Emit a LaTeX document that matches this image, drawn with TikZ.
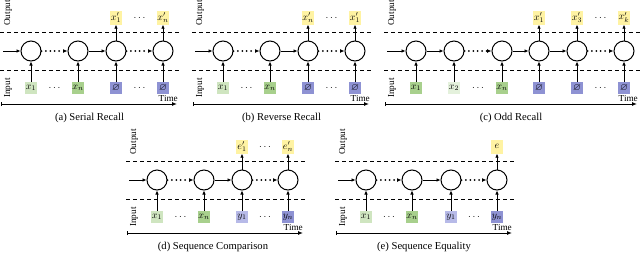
\documentclass[tikz,border=0pt]{standalone}
\usepackage{amssymb}
\usepackage{fontspec}
\setmainfont{Liberation Serif}
\usetikzlibrary{arrows.meta}
\definecolor{glight}{HTML}{CFE5C0}
\definecolor{gmid}{HTML}{A8D08D}
\definecolor{gpale}{HTML}{E4F1DC}
\definecolor{pmid}{HTML}{8E92D3}
\definecolor{plight}{HTML}{B7BAE8}
\definecolor{ylw}{HTML}{FFF3A3}
\tikzset{
  cell/.style={circle,draw,line width=1pt,minimum size=20pt,inner sep=0pt},
  inbox/.style={rectangle,minimum width=12.5pt,minimum height=12.5pt,inner sep=0.5pt,font=\fontsize{10}{12}\selectfont},
  outbox/.style={rectangle,fill=ylw,minimum width=12pt,minimum height=14pt,inner sep=0.5pt,font=\fontsize{10}{12}\selectfont},
  flow/.style={line width=0.8pt,-{Latex[length=4pt,width=3.6pt]}},
  dflow/.style={line width=2pt,line cap=round,dash pattern=on 0pt off 4.4pt,-{Latex[length=4.5pt,width=4pt]}},
  guide/.style={line width=0.8pt,dash pattern=on 4pt off 3pt},
  axisline/.style={line width=1pt,{Bar[width=4pt]}-{Latex[length=5pt,width=4pt]}},
  lbl/.style={inner sep=0pt,font=\fontsize{9.2}{10}\selectfont},
  captext/.style={inner sep=0pt,font=\fontsize{10.6}{12}\selectfont},
  dd/.style={inner sep=0pt,font=\fontsize{10}{12}\selectfont}
}
\begin{document}
\begin{tikzpicture}[x=1pt,y=-1pt]
\useasboundingbox (0,0) rectangle (640,266);
% ---------------- (a) Serial Recall
\begin{scope}[shift={(0,0)}]
\draw[guide] (0,32.5) -- (180,32.5);
\draw[guide] (0,70.5) -- (180,70.5);
\node[lbl,rotate=90] (aO) at (8,13) {Output};
\node[lbl,rotate=90] (aI) at (8,88) {Input};
\node[cell] (a1) at (31,51) {};
\node[cell] (a2) at (78,51) {};
\node[cell] (a3) at (116,51) {};
\node[cell] (a4) at (163,51) {};
\coordinate (a0) at (3,51);
\draw[flow] (a0) -- (a1);
\draw[dflow] (a1) -- (a2);
\draw[flow] (a2) -- (a3);
\draw[dflow] (a3) -- (a4);
\node[inbox,fill=glight] (ai1) at (31,88) {$x_1$};
\node[inbox,fill=gmid] (ai2) at (78,88) {$x_n$};
\node[inbox,fill=pmid] (ai3) at (116,88) {$\varnothing$};
\node[inbox,fill=pmid] (ai4) at (163,88) {$\varnothing$};
\node[dd] (aid1) at (54.5,88) {$\dots$};
\node[dd] (aid2) at (139.5,88) {$\dots$};
\foreach \i in {1,...,4}{\draw[flow] (ai\i) -- (a\i);}
\node[outbox] (ao3) at (116,17.5) {$x'_1$};
\node[outbox] (ao4) at (163,17.5) {$x'_n$};
\node[dd] (aod) at (139.5,17.5) {$\dots$};
\draw[flow] (a3) -- (ao3);
\draw[flow] (a4) -- (ao4);
\coordinate (at0) at (1,104);
\coordinate (at1) at (177,104);
\draw[axisline] (at0) -- (at1);
\node[lbl,anchor=base east] (aT) at (178,101) {Time};
\node[captext] (aC) at (89.5,118) {(a) Serial Recall};
\end{scope}
% ---------------- (b) Reverse Recall
\begin{scope}[shift={(192,0)}]
\draw[guide] (0,32.5) -- (180,32.5);
\draw[guide] (0,70.5) -- (180,70.5);
\node[lbl,rotate=90] (bO) at (8,13) {Output};
\node[lbl,rotate=90] (bI) at (8,88) {Input};
\node[cell] (b1) at (31,51) {};
\node[cell] (b2) at (78,51) {};
\node[cell] (b3) at (116,51) {};
\node[cell] (b4) at (163,51) {};
\coordinate (b0) at (3,51);
\draw[flow] (b0) -- (b1);
\draw[dflow] (b1) -- (b2);
\draw[flow] (b2) -- (b3);
\draw[dflow] (b3) -- (b4);
\node[inbox,fill=glight] (bi1) at (31,88) {$x_1$};
\node[inbox,fill=gmid] (bi2) at (78,88) {$x_n$};
\node[inbox,fill=pmid] (bi3) at (116,88) {$\varnothing$};
\node[inbox,fill=pmid] (bi4) at (163,88) {$\varnothing$};
\node[dd] (bid1) at (54.5,88) {$\dots$};
\node[dd] (bid2) at (139.5,88) {$\dots$};
\foreach \i in {1,...,4}{\draw[flow] (bi\i) -- (b\i);}
\node[outbox] (bo3) at (116,17.5) {$x'_n$};
\node[outbox] (bo4) at (163,17.5) {$x'_1$};
\node[dd] (bod) at (139.5,17.5) {$\dots$};
\draw[flow] (b3) -- (bo3);
\draw[flow] (b4) -- (bo4);
\coordinate (bt0) at (1,104);
\coordinate (bt1) at (177,104);
\draw[axisline] (bt0) -- (bt1);
\node[lbl,anchor=base east] (bT) at (178,101) {Time};
\node[captext] (bC) at (89.5,118) {(b) Reverse Recall};
\end{scope}
% ---------------- (c) Odd Recall
\begin{scope}[shift={(384,0)}]
\draw[guide] (0,32.5) -- (256,32.5);
\draw[guide] (0,70.5) -- (256,70.5);
\node[lbl,rotate=90] (cO) at (8,13) {Output};
\node[lbl,rotate=90] (cI) at (8,88) {Input};
\node[cell] (c1) at (32,51) {};
\node[cell] (c2) at (70,51) {};
\node[cell] (c3) at (118,51) {};
\node[cell] (c4) at (155,51) {};
\node[cell] (c5) at (193,51) {};
\node[cell] (c6) at (240,51) {};
\coordinate (c0) at (3,51);
\draw[flow] (c0) -- (c1);
\draw[flow] (c1) -- (c2);
\draw[dflow] (c2) -- (c3);
\draw[flow] (c3) -- (c4);
\draw[flow] (c4) -- (c5);
\draw[dflow] (c5) -- (c6);
\node[inbox,fill=gmid] (ci1) at (32,88) {$x_1$};
\node[inbox,fill=gpale] (ci2) at (70,88) {$x_2$};
\node[inbox,fill=gmid] (ci3) at (118,88) {$x_n$};
\node[inbox,fill=pmid] (ci4) at (155,88) {$\varnothing$};
\node[inbox,fill=pmid] (ci5) at (193,88) {$\varnothing$};
\node[inbox,fill=pmid] (ci6) at (240,88) {$\varnothing$};
\node[dd] (cid1) at (94,88) {$\dots$};
\node[dd] (cid2) at (216.5,88) {$\dots$};
\foreach \i in {1,...,6}{\draw[flow] (ci\i) -- (c\i);}
\node[outbox] (co4) at (155,17.5) {$x'_1$};
\node[outbox] (co5) at (193,17.5) {$x'_3$};
\node[outbox] (co6) at (240,17.5) {$x'_k$};
\node[dd] (cod) at (216.5,17.5) {$\dots$};
\draw[flow] (c4) -- (co4);
\draw[flow] (c5) -- (co5);
\draw[flow] (c6) -- (co6);
\coordinate (ct0) at (1,104);
\coordinate (ct1) at (253,104);
\draw[axisline] (ct0) -- (ct1);
\node[lbl,anchor=base east] (cT) at (254,101) {Time};
\node[captext] (cC) at (127,118) {(c) Odd Recall};
\end{scope}
% ---------------- (d) Sequence Comparison
\begin{scope}[shift={(126,129)}]
\draw[guide] (0,32.5) -- (181,32.5);
\draw[guide] (0,70.5) -- (181,70.5);
\node[lbl,rotate=90] (dO) at (8,13) {Output};
\node[lbl,rotate=90] (dI) at (8,88) {Input};
\node[cell] (d1) at (31,51) {};
\node[cell] (d2) at (78,51) {};
\node[cell] (d3) at (116,51) {};
\node[cell] (d4) at (162,51) {};
\coordinate (d0) at (3,51);
\draw[flow] (d0) -- (d1);
\draw[dflow] (d1) -- (d2);
\draw[flow] (d2) -- (d3);
\draw[dflow] (d3) -- (d4);
\node[inbox,fill=glight] (di1) at (31,88) {$x_1$};
\node[inbox,fill=gmid] (di2) at (78,88) {$x_n$};
\node[inbox,fill=plight] (di3) at (116,88) {$y_1$};
\node[inbox,fill=pmid] (di4) at (162,88) {$y_n$};
\node[dd] (did1) at (54.5,88) {$\dots$};
\node[dd] (did2) at (139,88) {$\dots$};
\foreach \i in {1,...,4}{\draw[flow] (di\i) -- (d\i);}
\node[outbox] (do3) at (116,17.5) {$e'_1$};
\node[outbox] (do4) at (162,17.5) {$e'_n$};
\node[dd] (dod) at (139,17.5) {$\dots$};
\draw[flow] (d3) -- (do3);
\draw[flow] (d4) -- (do4);
\coordinate (dt0) at (1,104);
\coordinate (dt1) at (177,104);
\draw[axisline] (dt0) -- (dt1);
\node[lbl,anchor=base east] (dT) at (177,101) {Time};
\node[captext] (dC) at (87,118) {(d) Sequence Comparison};
\end{scope}
% ---------------- (e) Sequence Equality
\begin{scope}[shift={(335,129)}]
\draw[guide] (0,32.5) -- (181,32.5);
\draw[guide] (0,70.5) -- (181,70.5);
\node[lbl,rotate=90] (eO) at (8,13) {Output};
\node[lbl,rotate=90] (eI) at (8,88) {Input};
\node[cell] (e1) at (31,51) {};
\node[cell] (e2) at (77,51) {};
\node[cell] (e3) at (116,51) {};
\node[cell] (e4) at (162,51) {};
\coordinate (e0) at (3,51);
\draw[flow] (e0) -- (e1);
\draw[dflow] (e1) -- (e2);
\draw[flow] (e2) -- (e3);
\draw[dflow] (e3) -- (e4);
\node[inbox,fill=glight] (ei1) at (31,88) {$x_1$};
\node[inbox,fill=gmid] (ei2) at (77,88) {$x_n$};
\node[inbox,fill=plight] (ei3) at (116,88) {$y_1$};
\node[inbox,fill=pmid] (ei4) at (162,88) {$y_n$};
\node[dd] (eid1) at (54,88) {$\dots$};
\node[dd] (eid2) at (139,88) {$\dots$};
\foreach \i in {1,...,4}{\draw[flow] (ei\i) -- (e\i);}
\node[outbox] (eo4) at (162,17.5) {$e$};
\draw[flow] (e4) -- (eo4);
\coordinate (et0) at (1,104);
\coordinate (et1) at (177,104);
\draw[axisline] (et0) -- (et1);
\node[lbl,anchor=base east] (eT) at (177,101) {Time};
\node[captext] (eC) at (89,118) {(e) Sequence Equality};
\end{scope}
\end{tikzpicture}
\end{document}
